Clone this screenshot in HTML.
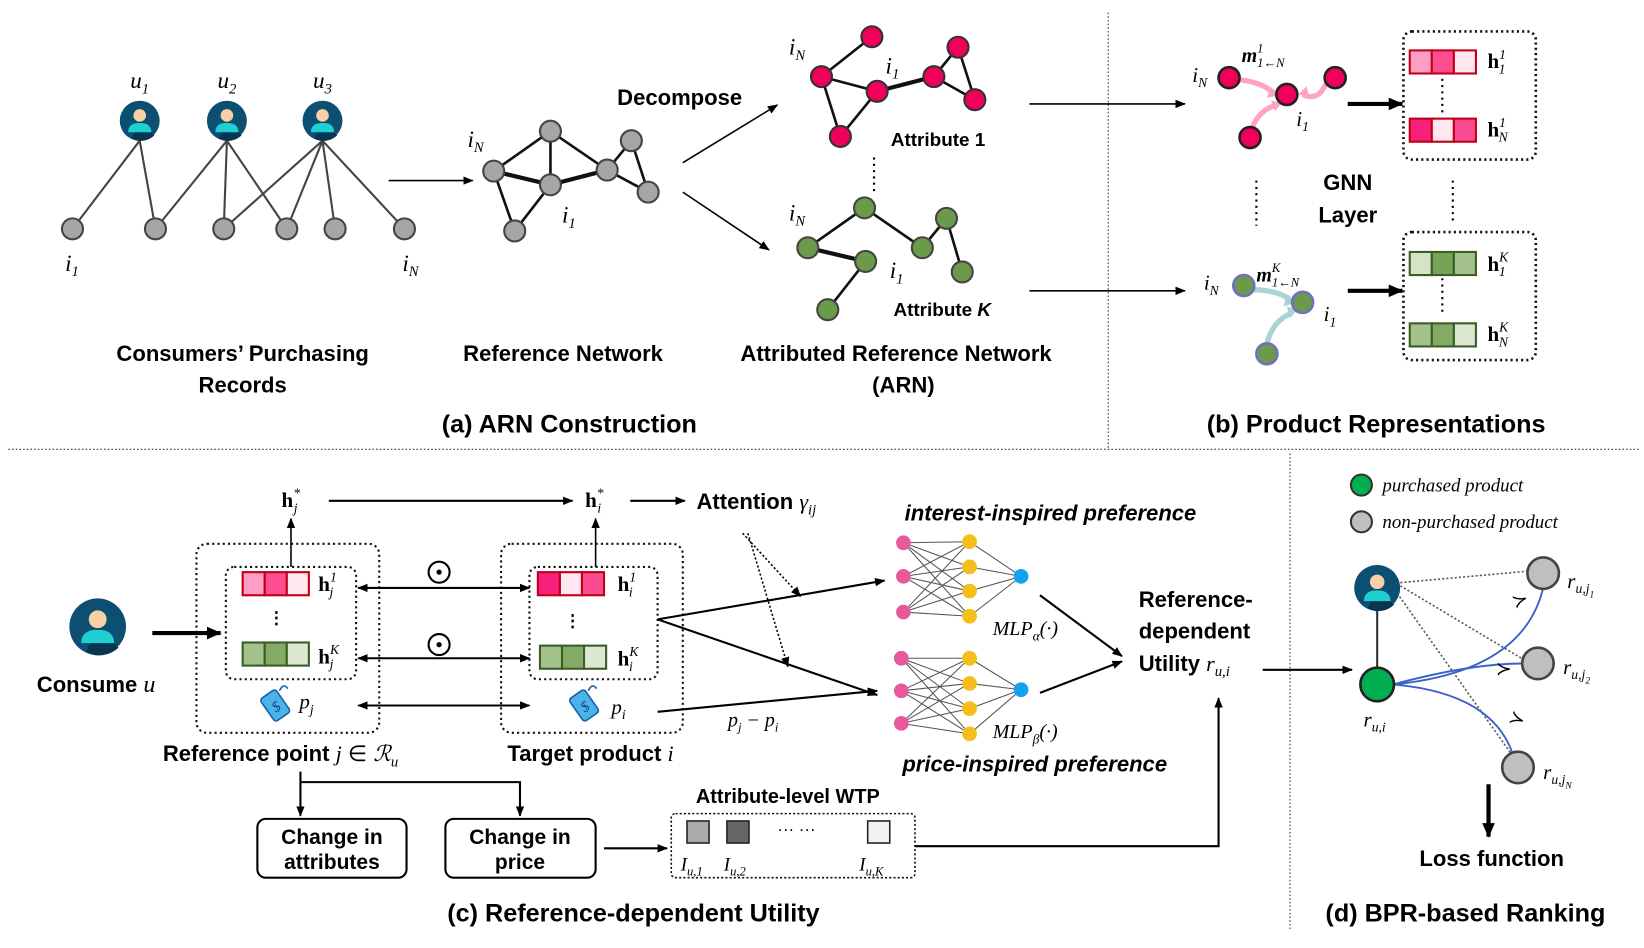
<!DOCTYPE html>
<html><head><meta charset="utf-8"><style>
html,body{margin:0;padding:0;background:#fff;}
svg{display:block;}
.b{font-family:"Liberation Sans",sans-serif;font-weight:bold;fill:#000;}
.m{font-family:"Liberation Serif",serif;font-style:italic;fill:#000;}
.hb{font-family:"Liberation Serif",serif;font-weight:bold;fill:#000;}
</style></head><body>
<svg width="1644" height="948" viewBox="0 0 1565 903" preserveAspectRatio="none" xmlns="http://www.w3.org/2000/svg">
<defs>
<marker id="a" markerWidth="10" markerHeight="10" refX="9" refY="5" orient="auto" markerUnits="userSpaceOnUse"><path d="M0,1 L10,5 L0,9 z" fill="#000"/></marker>
<marker id="a2" markerWidth="14" markerHeight="14" refX="13" refY="7" orient="auto" markerUnits="userSpaceOnUse"><path d="M0,1 L14,7 L0,13 z" fill="#000"/></marker>
<marker id="as" markerWidth="10" markerHeight="10" refX="1" refY="5" orient="auto" markerUnits="userSpaceOnUse"><path d="M10,1 L0,5 L10,9 z" fill="#000"/></marker>
<g id="user"><circle r="19" fill="#0d4f73"/><path d="M0,0 L14,14 A19,19 0 0 1 -8,17 z" fill="#0a3550"/><circle cy="-5" r="6" fill="#f9cfa5"/><path d="M-11,11 Q-11,2 0,2 Q11,2 11,11 z" fill="#1fd0d2"/></g>
<g id="tag"><g transform="rotate(-35)"><rect x="-9" y="-13" width="18" height="26" rx="3" fill="#4ab3e8" stroke="#1a5fa5" stroke-width="1.5"/><text x="0" y="6" font-size="14" text-anchor="middle" font-family="Liberation Serif" font-style="italic" fill="#1a3f80">$</text></g><path d="M4,-14 q4,-8 8,-2" stroke="#1a5fa5" fill="none" stroke-width="1.5"/></g>
</defs>

<!-- separators -->
<g stroke="#333" stroke-width="1" stroke-dasharray="1.5,2">
<line x1="1055" y1="12" x2="1055" y2="428"/>
<line x1="8" y1="428" x2="1562" y2="428"/>
<line x1="1228" y1="432" x2="1228" y2="886"/>
</g>

<!-- panel a: bipartite -->
<g stroke="#444" stroke-width="2">
<line x1="133" y1="134" x2="69" y2="218"/><line x1="133" y1="134" x2="148" y2="218"/>
<line x1="216" y1="134" x2="148" y2="218"/><line x1="216" y1="134" x2="213" y2="218"/><line x1="216" y1="134" x2="273" y2="218"/>
<line x1="307" y1="134" x2="213" y2="218"/><line x1="307" y1="134" x2="273" y2="218"/><line x1="307" y1="134" x2="319" y2="218"/><line x1="307" y1="134" x2="385" y2="218"/>
</g>
<g fill="#a6a6a6" stroke="#444" stroke-width="2">
<circle cx="69" cy="218" r="10"/><circle cx="148" cy="218" r="10"/><circle cx="213" cy="218" r="10"/><circle cx="273" cy="218" r="10"/><circle cx="319" cy="218" r="10"/><circle cx="385" cy="218" r="10"/>
</g>
<use href="#user" x="133" y="115"/><use href="#user" x="216" y="115"/><use href="#user" x="307" y="115"/>
<text class="m" x="133" y="84" font-size="22" text-anchor="middle">u<tspan font-size="14" dy="5">1</tspan></text>
<text class="m" x="216" y="84" font-size="22" text-anchor="middle">u<tspan font-size="14" dy="5">2</tspan></text>
<text class="m" x="307" y="84" font-size="22" text-anchor="middle">u<tspan font-size="14" dy="5">3</tspan></text>
<text class="m" x="62" y="258" font-size="22">i<tspan font-size="14" dy="5">1</tspan></text>
<text class="m" x="383" y="258" font-size="22">i<tspan font-size="14" dy="5">N</tspan></text>
<line x1="370" y1="172" x2="450" y2="172" stroke="#000" stroke-width="1.5" marker-end="url(#a)"/>

<!-- reference network -->
<g stroke="#111" stroke-width="2.5">
<line x1="470" y1="163" x2="524" y2="125"/><line x1="470" y1="163" x2="524" y2="176" stroke-width="4"/><line x1="470" y1="163" x2="490" y2="220"/>
<line x1="524" y1="125" x2="524" y2="176"/><line x1="524" y1="125" x2="578" y2="162"/><line x1="524" y1="176" x2="578" y2="162" stroke-width="4"/>
<line x1="578" y1="162" x2="601" y2="134"/><line x1="601" y1="134" x2="617" y2="183"/><line x1="578" y1="162" x2="617" y2="183"/><line x1="524" y1="176" x2="490" y2="220"/>
</g>
<g fill="#a6a6a6" stroke="#444" stroke-width="2">
<circle cx="470" cy="163" r="10"/><circle cx="524" cy="125" r="10"/><circle cx="524" cy="176" r="10"/><circle cx="490" cy="220" r="10"/><circle cx="578" cy="162" r="10"/><circle cx="601" cy="134" r="10"/><circle cx="617" cy="183" r="10"/>
</g>
<text class="m" x="445" y="140" font-size="22">i<tspan font-size="14" dy="5">N</tspan></text>
<text class="m" x="535" y="212" font-size="22">i<tspan font-size="14" dy="5">1</tspan></text>
<text class="b" x="647" y="100" font-size="21" text-anchor="middle">Decompose</text>
<line x1="650" y1="155" x2="740" y2="100" stroke="#000" stroke-width="1.5" marker-end="url(#a)"/>
<line x1="650" y1="183" x2="732" y2="238" stroke="#000" stroke-width="1.5" marker-end="url(#a)"/>

<!-- red graph -->
<g stroke="#111" stroke-width="2.5">
<line x1="782" y1="73" x2="830" y2="35"/><line x1="782" y1="73" x2="835" y2="87"/><line x1="782" y1="73" x2="800" y2="130"/><line x1="835" y1="87" x2="800" y2="130"/>
<line x1="835" y1="87" x2="889" y2="73" stroke-width="4"/><line x1="889" y1="73" x2="912" y2="45"/><line x1="912" y1="45" x2="928" y2="95"/><line x1="889" y1="73" x2="928" y2="95"/>
</g>
<g fill="#f0005a" stroke="#333" stroke-width="2">
<circle cx="782" cy="73" r="10"/><circle cx="830" cy="35" r="10"/><circle cx="835" cy="87" r="10"/><circle cx="889" cy="73" r="10"/><circle cx="912" cy="45" r="10"/><circle cx="928" cy="95" r="10"/><circle cx="800" cy="130" r="10"/>
</g>
<text class="m" x="751" y="52" font-size="22">i<tspan font-size="14" dy="5">N</tspan></text>
<text class="m" x="843" y="70" font-size="22">i<tspan font-size="14" dy="5">1</tspan></text>
<text class="b" x="893" y="139" font-size="18" text-anchor="middle">Attribute 1</text>
<line x1="832" y1="150" x2="832" y2="183" stroke="#000" stroke-width="2" stroke-dasharray="2,4"/>

<!-- green graph -->
<g stroke="#111" stroke-width="2.5">
<line x1="823" y1="198" x2="769" y2="236"/><line x1="823" y1="198" x2="878" y2="236"/><line x1="878" y1="236" x2="901" y2="208"/><line x1="901" y1="208" x2="916" y2="259"/>
<line x1="769" y1="236" x2="824" y2="249" stroke-width="4"/><line x1="824" y1="249" x2="788" y2="295"/>
</g>
<g fill="#6a9a4a" stroke="#444" stroke-width="2">
<circle cx="823" cy="198" r="10"/><circle cx="769" cy="236" r="10"/><circle cx="824" cy="249" r="10"/><circle cx="878" cy="236" r="10"/><circle cx="901" cy="208" r="10"/><circle cx="916" cy="259" r="10"/><circle cx="788" cy="295" r="10"/>
</g>
<text class="m" x="751" y="210" font-size="22">i<tspan font-size="14" dy="5">N</tspan></text>
<text class="m" x="847" y="265" font-size="22">i<tspan font-size="14" dy="5">1</tspan></text>
<text class="b" x="897" y="301" font-size="18" text-anchor="middle">Attribute <tspan font-style="italic">K</tspan></text>

<text class="b" x="231" y="344" font-size="21" text-anchor="middle">Consumers’ Purchasing</text>
<text class="b" x="231" y="374" font-size="21" text-anchor="middle">Records</text>
<text class="b" x="536" y="344" font-size="21" text-anchor="middle">Reference Network</text>
<text class="b" x="853" y="344" font-size="21" text-anchor="middle">Attributed Reference Network</text>
<text class="b" x="860" y="374" font-size="21" text-anchor="middle">(ARN)</text>
<text class="b" x="542" y="412" font-size="24" text-anchor="middle">(a) ARN Construction</text>

<!-- panel b -->
<line x1="980" y1="99" x2="1128" y2="99" stroke="#000" stroke-width="1.5" marker-end="url(#a)"/>
<line x1="980" y1="277" x2="1128" y2="277" stroke="#000" stroke-width="1.5" marker-end="url(#a)"/>
<g fill="none" stroke="#ffa3c6" stroke-width="5">
<path d="M1180,76 Q1200,78 1212,88"/><path d="M1262,80 Q1255,97 1240,90"/><path d="M1192,122 Q1198,105 1215,100"/>
</g>
<g fill="#ffa3c6"><path d="M1218,91 l-12,2 l4,-10 z"/><path d="M1236,90 l8,-8 l2,10 z"/><path d="M1220,98 l-10,-2 l4,10 z"/></g>
<g fill="#f0005a" stroke="#222" stroke-width="2.5">
<circle cx="1170" cy="74" r="10"/><circle cx="1225" cy="90" r="10"/><circle cx="1271" cy="74" r="10"/><circle cx="1190" cy="131" r="10"/>
</g>
<text class="m" x="1135" y="78" font-size="20">i<tspan font-size="13" dy="5">N</tspan></text>
<text class="m" x="1182" y="59" font-size="19" font-weight="bold">m<tspan font-size="12" dy="-9" font-weight="normal">1</tspan><tspan font-size="12" dx="-6" dy="14" font-weight="normal">1←N</tspan></text>
<text class="m" x="1234" y="120" font-size="20">i<tspan font-size="13" dy="5">1</tspan></text>
<g fill="none" stroke="#a8d4d4" stroke-width="5">
<path d="M1192,276 Q1215,276 1228,285"/><path d="M1206,327 Q1212,305 1230,298"/>
</g>
<g fill="#a8d4d4"><path d="M1234,288 l-12,4 l2,-11 z"/><path d="M1235,295 l-10,-3 l3,11 z"/></g>
<g fill="#6a9a4a" stroke="#7070c0" stroke-width="2.5">
<circle cx="1184" cy="272" r="10"/><circle cx="1240" cy="288" r="10"/><circle cx="1206" cy="337" r="10"/>
</g>
<text class="m" x="1146" y="276" font-size="20">i<tspan font-size="13" dy="5">N</tspan></text>
<text class="m" x="1196" y="268" font-size="19" font-weight="bold">m<tspan font-size="12" dy="-9" font-weight="normal">K</tspan><tspan font-size="12" dx="-8" dy="14" font-weight="normal">1←N</tspan></text>
<text class="m" x="1260" y="306" font-size="20">i<tspan font-size="13" dy="5">1</tspan></text>
<line x1="1283" y1="99" x2="1335" y2="99" stroke="#000" stroke-width="4" marker-end="url(#a2)"/>
<line x1="1283" y1="277" x2="1335" y2="277" stroke="#000" stroke-width="4" marker-end="url(#a2)"/>
<g fill="none" stroke="#111" stroke-width="2.5" stroke-dasharray="2,3">
<rect x="1336" y="30" width="126" height="122" rx="8"/><rect x="1336" y="221" width="126" height="122" rx="8"/>
</g>
<g stroke="#000" stroke-width="2" stroke-dasharray="2,4">
<line x1="1373" y1="75" x2="1373" y2="110"/><line x1="1373" y1="265" x2="1373" y2="300"/>
<line x1="1196" y1="172" x2="1196" y2="215"/><line x1="1383" y1="172" x2="1383" y2="212"/>
</g>
<g stroke="#c00018" stroke-width="2">
<rect x="1342" y="48" width="21" height="22" fill="#ff9ec4"/><rect x="1363" y="48" width="21" height="22" fill="#ff4d92"/><rect x="1384" y="48" width="21" height="22" fill="#ffe8ee"/>
<rect x="1342" y="113" width="21" height="22" fill="#f7207a"/><rect x="1363" y="113" width="21" height="22" fill="#ffe6f0"/><rect x="1384" y="113" width="21" height="22" fill="#fb4c92"/>
</g>
<g stroke="#3c5c28" stroke-width="2">
<rect x="1342" y="240" width="21" height="22" fill="#d5e4c6"/><rect x="1363" y="240" width="21" height="22" fill="#77a355"/><rect x="1384" y="240" width="21" height="22" fill="#a3c18a"/>
<rect x="1342" y="308" width="21" height="22" fill="#a3c18a"/><rect x="1363" y="308" width="21" height="22" fill="#83ab63"/><rect x="1384" y="308" width="21" height="22" fill="#dde8d2"/>
</g>
<g font-size="20">
<text class="hb" x="1416" y="65">h<tspan class="m" font-weight="normal" font-size="13" dy="-9">1</tspan><tspan class="m" font-weight="normal" font-size="13" dx="-7" dy="14">1</tspan></text>
<text class="hb" x="1416" y="130">h<tspan class="m" font-weight="normal" font-size="13" dy="-9">1</tspan><tspan class="m" font-weight="normal" font-size="13" dx="-7" dy="14">N</tspan></text>
<text class="hb" x="1416" y="258">h<tspan class="m" font-weight="normal" font-size="13" dy="-9">K</tspan><tspan class="m" font-weight="normal" font-size="13" dx="-9" dy="14">1</tspan></text>
<text class="hb" x="1416" y="325">h<tspan class="m" font-weight="normal" font-size="13" dy="-9">K</tspan><tspan class="m" font-weight="normal" font-size="13" dx="-9" dy="14">N</tspan></text>
</g>
<text class="b" x="1283" y="181" font-size="21" text-anchor="middle">GNN</text>
<text class="b" x="1283" y="212" font-size="21" text-anchor="middle">Layer</text>
<text class="b" x="1310" y="412" font-size="24" text-anchor="middle">(b) Product Representations</text>

<!-- panel c -->
<g transform="translate(93,597) scale(1.42)"><use href="#user"/></g>
<text class="b" x="35" y="659" font-size="21">Consume <tspan class="m" font-weight="normal" font-size="23">u</tspan></text>
<line x1="145" y1="603" x2="210" y2="603" stroke="#000" stroke-width="4" marker-end="url(#a2)"/>
<g fill="none" stroke="#111" stroke-width="2" stroke-dasharray="2,3">
<rect x="187" y="518" width="174" height="180" rx="10"/><rect x="215" y="540" width="124" height="107" rx="8"/>
<rect x="477" y="518" width="173" height="180" rx="10"/><rect x="504" y="540" width="122" height="107" rx="8"/>
</g>
<g stroke="#c00018" stroke-width="2">
<rect x="231" y="545" width="21" height="22" fill="#ff9ec4"/><rect x="252" y="545" width="21" height="22" fill="#ff4d92"/><rect x="273" y="545" width="21" height="22" fill="#ffe8ee"/>
<rect x="512" y="545" width="21" height="22" fill="#f7207a"/><rect x="533" y="545" width="21" height="22" fill="#ffe6f0"/><rect x="554" y="545" width="21" height="22" fill="#fb4c92"/>
</g>
<g stroke="#3c5c28" stroke-width="2">
<rect x="231" y="612" width="21" height="22" fill="#a3c18a"/><rect x="252" y="612" width="21" height="22" fill="#83ab63"/><rect x="273" y="612" width="21" height="22" fill="#dde8d2"/>
<rect x="514" y="615" width="21" height="22" fill="#a3c18a"/><rect x="535" y="615" width="21" height="22" fill="#83ab63"/><rect x="556" y="615" width="21" height="22" fill="#dde8d2"/>
</g>
<text class="b" x="263" y="594" font-size="16" text-anchor="middle">⋮</text>
<text class="b" x="545" y="597" font-size="16" text-anchor="middle">⋮</text>
<g font-size="20">
<text class="hb" x="303" y="563">h<tspan class="m" font-weight="normal" font-size="13" dy="-9">1</tspan><tspan class="m" font-weight="normal" font-size="13" dx="-7" dy="14">j</tspan></text>
<text class="hb" x="303" y="632">h<tspan class="m" font-weight="normal" font-size="13" dy="-9">K</tspan><tspan class="m" font-weight="normal" font-size="13" dx="-9" dy="14">j</tspan></text>
<text class="hb" x="588" y="563">h<tspan class="m" font-weight="normal" font-size="13" dy="-9">1</tspan><tspan class="m" font-weight="normal" font-size="13" dx="-7" dy="14">i</tspan></text>
<text class="hb" x="588" y="634">h<tspan class="m" font-weight="normal" font-size="13" dy="-9">K</tspan><tspan class="m" font-weight="normal" font-size="13" dx="-9" dy="14">i</tspan></text>
<text class="hb" x="268" y="483">h<tspan class="m" font-weight="normal" font-size="13" dy="-9">*</tspan><tspan class="m" font-weight="normal" font-size="13" dx="-6" dy="14">j</tspan></text>
<text class="hb" x="557" y="483">h<tspan class="m" font-weight="normal" font-size="13" dy="-9">*</tspan><tspan class="m" font-weight="normal" font-size="13" dx="-6" dy="14">i</tspan></text>
</g>
<use href="#tag" x="262" y="672"/><use href="#tag" x="556" y="672"/>
<text class="m" x="285" y="675" font-size="20">p<tspan font-size="13" dy="5">j</tspan></text>
<text class="m" x="582" y="680" font-size="20">p<tspan font-size="13" dy="5">i</tspan></text>
<g stroke="#000" stroke-width="1.5">
<line x1="277" y1="540" x2="277" y2="494" marker-end="url(#a)"/><line x1="567" y1="540" x2="567" y2="494" marker-end="url(#a)"/>
<line x1="313" y1="477" x2="545" y2="477" marker-end="url(#a)" stroke-width="2"/><line x1="600" y1="477" x2="652" y2="477" marker-end="url(#a)" stroke-width="2"/>
<line x1="341" y1="560" x2="504" y2="560" marker-end="url(#a)" marker-start="url(#as)" stroke-width="2"/>
<line x1="341" y1="627" x2="504" y2="627" marker-end="url(#a)" marker-start="url(#as)" stroke-width="2"/>
<line x1="341" y1="672" x2="504" y2="672" marker-end="url(#a)" marker-start="url(#as)" stroke-width="2"/>
<line x1="626" y1="590" x2="842" y2="553" marker-end="url(#a)" stroke-width="2"/>
<line x1="626" y1="590" x2="835" y2="662" marker-end="url(#a)" stroke-width="2"/>
<line x1="626" y1="678" x2="835" y2="658" marker-end="url(#a)" stroke-width="2"/>
</g>
<g stroke="#000" stroke-width="1.5" stroke-dasharray="2,2">
<line x1="707" y1="508" x2="762" y2="568" marker-end="url(#a)"/><line x1="712" y1="508" x2="750" y2="635" marker-end="url(#a)"/>
</g>
<g fill="none" stroke="#000" stroke-width="2"><circle cx="418" cy="545" r="10"/><circle cx="418" cy="614" r="10"/></g>
<circle cx="418" cy="545" r="2.5"/><circle cx="418" cy="614" r="2.5"/>
<text class="m" x="693" y="692" font-size="19">p<tspan font-size="12" dy="5">j</tspan><tspan dy="-5"> − p</tspan><tspan font-size="12" dy="5">i</tspan></text>
<text class="b" x="663" y="485" font-size="21">Attention <tspan class="m" font-weight="normal">γ</tspan><tspan class="m" font-weight="normal" font-size="14" dy="5">ij</tspan></text>

<!-- MLPs -->
<g stroke="#555" stroke-width="1">
<path d="M860,517L923,516M860,517L923,540M860,517L923,563M860,517L923,587M860,549L923,516M860,549L923,540M860,549L923,563M860,549L923,587M860,583L923,516M860,583L923,540M860,583L923,563M860,583L923,587M923,516L972,549M923,540L972,549M923,563L972,549M923,587L972,549"/>
<path d="M858,627L923,627M858,627L923,651M858,627L923,675M858,627L923,699M858,658L923,627M858,658L923,651M858,658L923,675M858,658L923,699M858,689L923,627M858,689L923,651M858,689L923,675M858,689L923,699M923,627L972,657M923,651L972,657M923,675L972,657M923,699L972,657"/>
</g>
<g fill="#e8589c"><circle cx="860" cy="517" r="7"/><circle cx="860" cy="549" r="7"/><circle cx="860" cy="583" r="7"/><circle cx="858" cy="627" r="7"/><circle cx="858" cy="658" r="7"/><circle cx="858" cy="689" r="7"/></g>
<g fill="#f5be18"><circle cx="923" cy="516" r="7"/><circle cx="923" cy="540" r="7"/><circle cx="923" cy="563" r="7"/><circle cx="923" cy="587" r="7"/><circle cx="923" cy="627" r="7"/><circle cx="923" cy="651" r="7"/><circle cx="923" cy="675" r="7"/><circle cx="923" cy="699" r="7"/></g>
<g fill="#12a2f0"><circle cx="972" cy="549" r="7"/><circle cx="972" cy="657" r="7"/></g>
<text class="m" x="945" y="605" font-size="19">MLP<tspan font-size="13" dy="5">α</tspan><tspan dy="-5">(·)</tspan></text>
<text class="m" x="945" y="703" font-size="19">MLP<tspan font-size="13" dy="5">β</tspan><tspan dy="-5">(·)</tspan></text>
<text class="b" x="1000" y="496" font-size="21" font-style="italic" text-anchor="middle">interest-inspired preference</text>
<text class="b" x="985" y="735" font-size="21" font-style="italic" text-anchor="middle">price-inspired preference</text>
<g stroke="#000" stroke-width="2">
<line x1="990" y1="567" x2="1068" y2="625" marker-end="url(#a)"/><line x1="990" y1="660" x2="1068" y2="630" marker-end="url(#a)"/>
</g>
<text class="b" x="1084" y="578" font-size="21">Reference-</text>
<text class="b" x="1084" y="608" font-size="21">dependent</text>
<text class="b" x="1084" y="639" font-size="21">Utility <tspan class="m" font-weight="normal">r</tspan><tspan class="m" font-weight="normal" font-size="14" dy="5">u,i</tspan></text>
<line x1="1202" y1="638" x2="1287" y2="638" stroke="#000" stroke-width="2" marker-end="url(#a)"/>

<text class="b" x="155" y="725" font-size="21">Reference point <tspan class="m" font-weight="normal">j</tspan> <tspan font-weight="normal">∈</tspan> <tspan class="m" font-weight="normal">ℛ</tspan><tspan class="m" font-weight="normal" font-size="14" dy="5">u</tspan></text>
<text class="b" x="483" y="725" font-size="21">Target product <tspan class="m" font-weight="normal">i</tspan></text>
<g stroke="#000" stroke-width="2" fill="none">
<line x1="286" y1="735" x2="286" y2="777" marker-end="url(#a)"/>
<polyline points="286,745 495,745 495,777" marker-end="url(#a)"/>
<line x1="575" y1="808" x2="635" y2="808" marker-end="url(#a)"/>
<polyline points="871,806 1160,806 1160,665" marker-end="url(#a)"/>
<rect x="245" y="780" width="142" height="56" rx="8"/><rect x="424" y="780" width="143" height="56" rx="8"/>
</g>
<text class="b" x="316" y="804" font-size="20" text-anchor="middle">Change in</text>
<text class="b" x="316" y="828" font-size="20" text-anchor="middle">attributes</text>
<text class="b" x="495" y="804" font-size="20" text-anchor="middle">Change in</text>
<text class="b" x="495" y="828" font-size="20" text-anchor="middle">price</text>
<text class="b" x="750" y="765" font-size="19" text-anchor="middle">Attribute-level WTP</text>
<rect x="639" y="775" width="232" height="61" rx="4" fill="none" stroke="#111" stroke-width="1.5" stroke-dasharray="2,2"/>
<rect x="654" y="782" width="21" height="21" fill="#aaa" stroke="#222" stroke-width="1.5"/>
<rect x="692" y="782" width="21" height="21" fill="#666" stroke="#222" stroke-width="1.5"/>
<rect x="826" y="782" width="21" height="21" fill="#f2f2f2" stroke="#222" stroke-width="1.5"/>
<text x="740" y="795" font-size="16" font-family="Liberation Sans">···   ···</text>
<text class="m" x="648" y="829" font-size="18">I<tspan font-size="12" dy="5">u,1</tspan></text>
<text class="m" x="689" y="829" font-size="18">I<tspan font-size="12" dy="5">u,2</tspan></text>
<text class="m" x="818" y="829" font-size="18">I<tspan font-size="12" dy="5">u,K</tspan></text>
<text class="b" x="603" y="878" font-size="24" text-anchor="middle">(c) Reference-dependent Utility</text>

<!-- panel d -->
<circle cx="1296" cy="462" r="10" fill="#00b050" stroke="#333" stroke-width="2"/>
<circle cx="1296" cy="497" r="10" fill="#bfbfbf" stroke="#333" stroke-width="2"/>
<text class="m" x="1316" y="468" font-size="18" font-family="Liberation Sans">purchased product</text>
<text class="m" x="1316" y="503" font-size="18">non-purchased product</text>
<g stroke="#555" stroke-width="1.5" stroke-dasharray="2,2">
<line x1="1333" y1="555" x2="1455" y2="544"/><line x1="1333" y1="558" x2="1450" y2="628"/><line x1="1330" y1="565" x2="1440" y2="720"/>
</g>
<g stroke="#3a62c8" stroke-width="1.8" fill="none">
<path d="M1326,652 Q1450,640 1469,560"/><path d="M1326,652 Q1400,632 1450,632"/><path d="M1326,652 Q1420,660 1440,718"/>
</g>
<text x="1440" y="580" font-size="18" font-family="DejaVu Sans" transform="rotate(-20 1440 574)">≻</text>
<text x="1424" y="643" font-size="18" font-family="DejaVu Sans">≻</text>
<text x="1437" y="690" font-size="18" font-family="DejaVu Sans" transform="rotate(20 1443 684)">≻</text>
<line x1="1311" y1="582" x2="1311" y2="636" stroke="#333" stroke-width="2"/>
<g transform="translate(1311,560) scale(1.15)"><use href="#user"/></g>
<circle cx="1311" cy="652" r="16" fill="#00b050" stroke="#222" stroke-width="2.5"/>
<g fill="#bfbfbf" stroke="#444" stroke-width="2.5">
<circle cx="1469" cy="546" r="15"/><circle cx="1464" cy="632" r="15"/><circle cx="1445" cy="731" r="15"/>
</g>
<text class="m" x="1298" y="692" font-size="20">r<tspan font-size="13" dy="5">u,i</tspan></text>
<text class="m" x="1492" y="560" font-size="20">r<tspan font-size="13" dy="5">u,j</tspan><tspan font-size="9" dy="4">1</tspan></text>
<text class="m" x="1488" y="642" font-size="20">r<tspan font-size="13" dy="5">u,j</tspan><tspan font-size="9" dy="4">2</tspan></text>
<text class="m" x="1469" y="742" font-size="20">r<tspan font-size="13" dy="5">u,j</tspan><tspan font-size="9" dy="4">N</tspan></text>
<line x1="1417" y1="747" x2="1417" y2="797" stroke="#000" stroke-width="4" marker-end="url(#a2)"/>
<text class="b" x="1420" y="825" font-size="21" text-anchor="middle">Loss function</text>
<text class="b" x="1395" y="878" font-size="24" text-anchor="middle">(d) BPR-based Ranking</text>
</svg>
</body></html>
